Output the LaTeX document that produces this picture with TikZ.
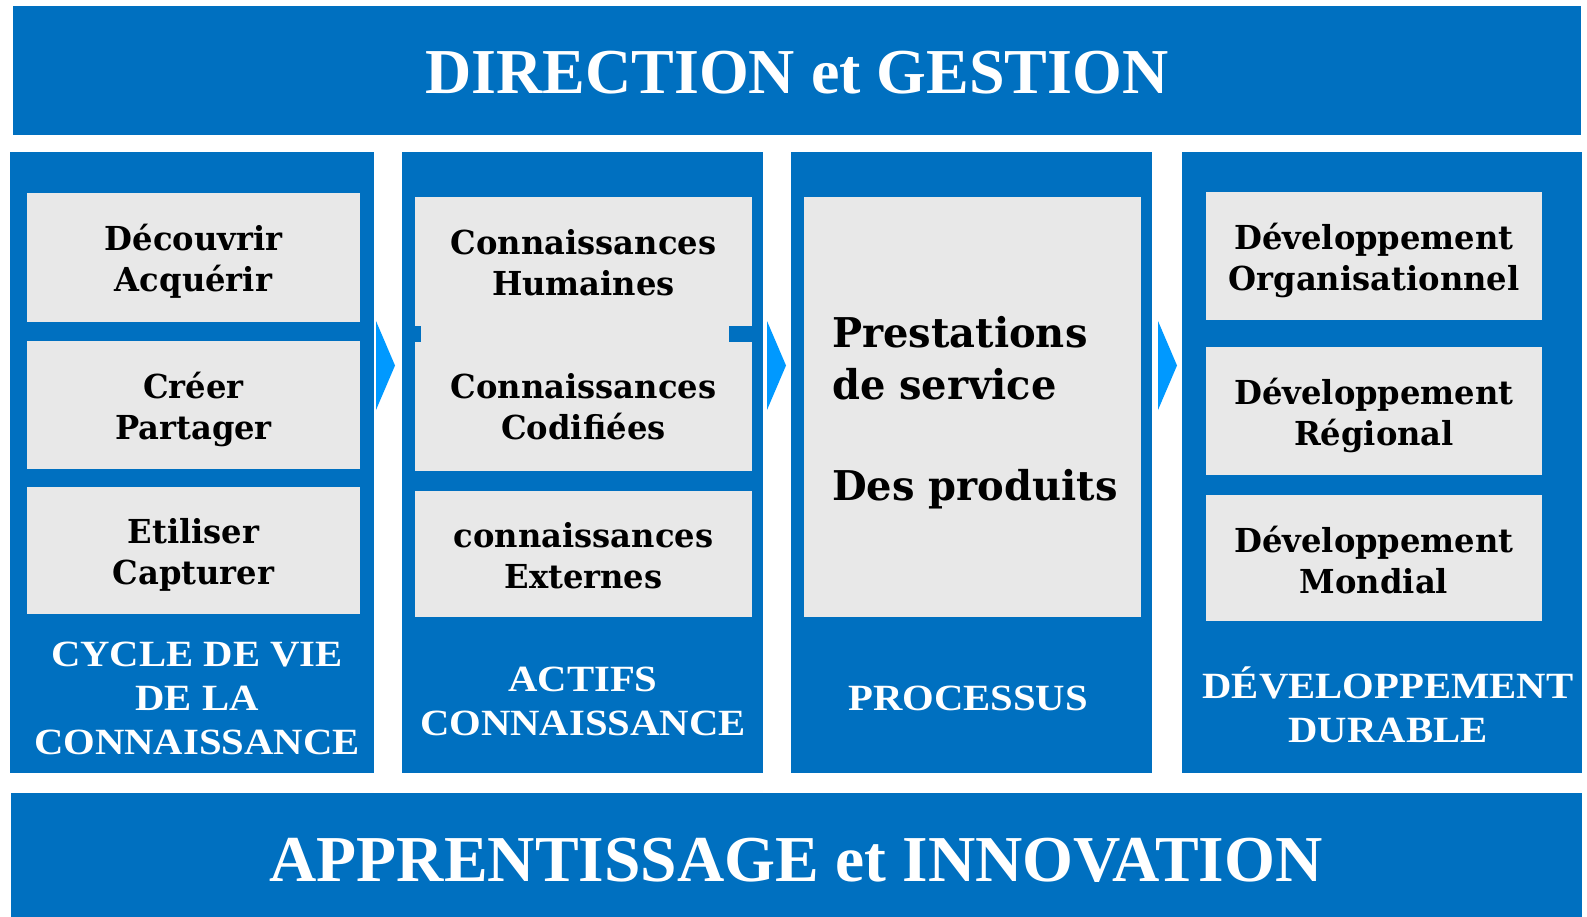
\documentclass[tikz,border=0pt]{standalone}
\usepackage{fontspec}
\setmainfont{Liberation Serif}
\newfontfamily\labfont[FakeStretch=1.1]{Liberation Serif}
\newfontfamily\grayfont[FakeStretch=0.975]{DejaVu Serif}
\definecolor{mblue}{HTML}{0070C0}
\definecolor{mgray}{HTML}{E8E8E8}
\definecolor{marrow}{HTML}{0099FF}
\begin{document}
\begin{tikzpicture}[x=1pt,y=-1pt,
  bluebox/.style={fill=mblue,inner sep=0pt,outer sep=0pt,draw=none},
  graybox/.style={fill=mgray,inner sep=0pt,outer sep=0pt,draw=none},
  graytext/.style={text=black,inner sep=0pt,
    font=\grayfont\bfseries\fontsize{33}{41}\selectfont,align=center},
  title/.style={text=white,font=\bfseries\fontsize{64}{70}\selectfont,inner sep=0pt},
  collabel/.style={text=white,font=\labfont\bfseries\fontsize{37}{44}\selectfont,align=center,inner sep=0pt},
  chevron/.style={fill=marrow,draw=none}]
\useasboundingbox (0,0) rectangle (1587,917);
\fill[white] (0,0) rectangle (1587,917);
% banners
\node[bluebox,minimum width=1568pt,minimum height=129pt] (top) at (797,70.5) {};
\node[title] (toptxt) at (797,72.5) {DIRECTION et GESTION};
\node[bluebox,minimum width=1571pt,minimum height=124pt] (bot) at (796.5,855) {};
\node[title,font=\bfseries\fontsize{65.5}{70}\selectfont] (bottxt) at (796,860) {APPRENTISSAGE et INNOVATION};
% columns
\node[bluebox,minimum width=364pt,minimum height=621pt] (c1) at (192,462.5) {};
\node[bluebox,minimum width=361pt,minimum height=621pt] (c2) at (582.5,462.5) {};
\node[bluebox,minimum width=361pt,minimum height=621pt] (c3) at (971.5,462.5) {};
\node[bluebox,minimum width=400pt,minimum height=621pt] (c4) at (1382,462.5) {};
% column 1
\node[graybox,minimum width=333pt,minimum height=129pt] (g11) at (193.5,257.5) {};
\node[graytext] (t11) at (193.5,261.5) {Découvrir\\Acquérir};
\node[graybox,minimum width=333pt,minimum height=128pt] (g12) at (193.5,405) {};
\node[graytext] (t12) at (193.5,409) {Créer\\Partager};
\node[graybox,minimum width=333pt,minimum height=127pt] (g13) at (193.5,550.5) {};
\node[graytext] (t13) at (193.5,554.5) {Etiliser\\Capturer};
\node[collabel] (l1) at (197,698) {CYCLE DE VIE\\DE LA\\CONNAISSANCE};
% column 2
\node[graybox,minimum width=337pt,minimum height=274pt] (g21) at (583.5,334) {};
\node[bluebox,minimum width=19pt,minimum height=16pt] (tabL) at (411.5,334) {};
\node[bluebox,minimum width=34pt,minimum height=16pt] (tabR) at (746,334) {};
\node[graytext] (t21) at (583.5,263) {Connaissances\\Humaines};
\node[graytext] (t22) at (583.5,407) {Connaissances\\Codifiées};
\node[graybox,minimum width=337pt,minimum height=126pt] (g23) at (583.5,554) {};
\node[graytext] (t23) at (583.5,556) {connaissances\\Externes};
\node[collabel] (l2) at (583,701) {ACTIFS\\CONNAISSANCE};
% column 3
\node[graybox,minimum width=337pt,minimum height=420pt] (g31) at (972.5,407) {};
\node[graytext,align=left,anchor=west,font=\grayfont\bfseries\fontsize{41}{52}\selectfont] (t31) at (832,413)
  {Prestations\\de service\\[49pt]Des produits};
\node[collabel] (l3) at (968,698) {PROCESSUS};
% column 4
\node[graybox,minimum width=336pt,minimum height=128pt] (g41) at (1374,256) {};
\node[graytext] (t41) at (1374,260.5) {Développement\\Organisationnel};
\node[graybox,minimum width=336pt,minimum height=128pt] (g42) at (1374,411) {};
\node[graytext] (t42) at (1374,415) {Développement\\Régional};
\node[graybox,minimum width=336pt,minimum height=126pt] (g43) at (1374,558) {};
\node[graytext] (t43) at (1374,560) {Développement\\Mondial};
\node[collabel] (l4) at (1388,705) {DÉVELOPPEMENT\\DURABLE};
% chevrons
\fill[chevron] (376,321) -- (395,365.5) -- (376,410) -- cycle;
\fill[chevron] (767,321) -- (786,365.5) -- (767,410) -- cycle;
\fill[chevron] (1158,321) -- (1177,365.5) -- (1158,410) -- cycle;
\end{tikzpicture}
\end{document}
